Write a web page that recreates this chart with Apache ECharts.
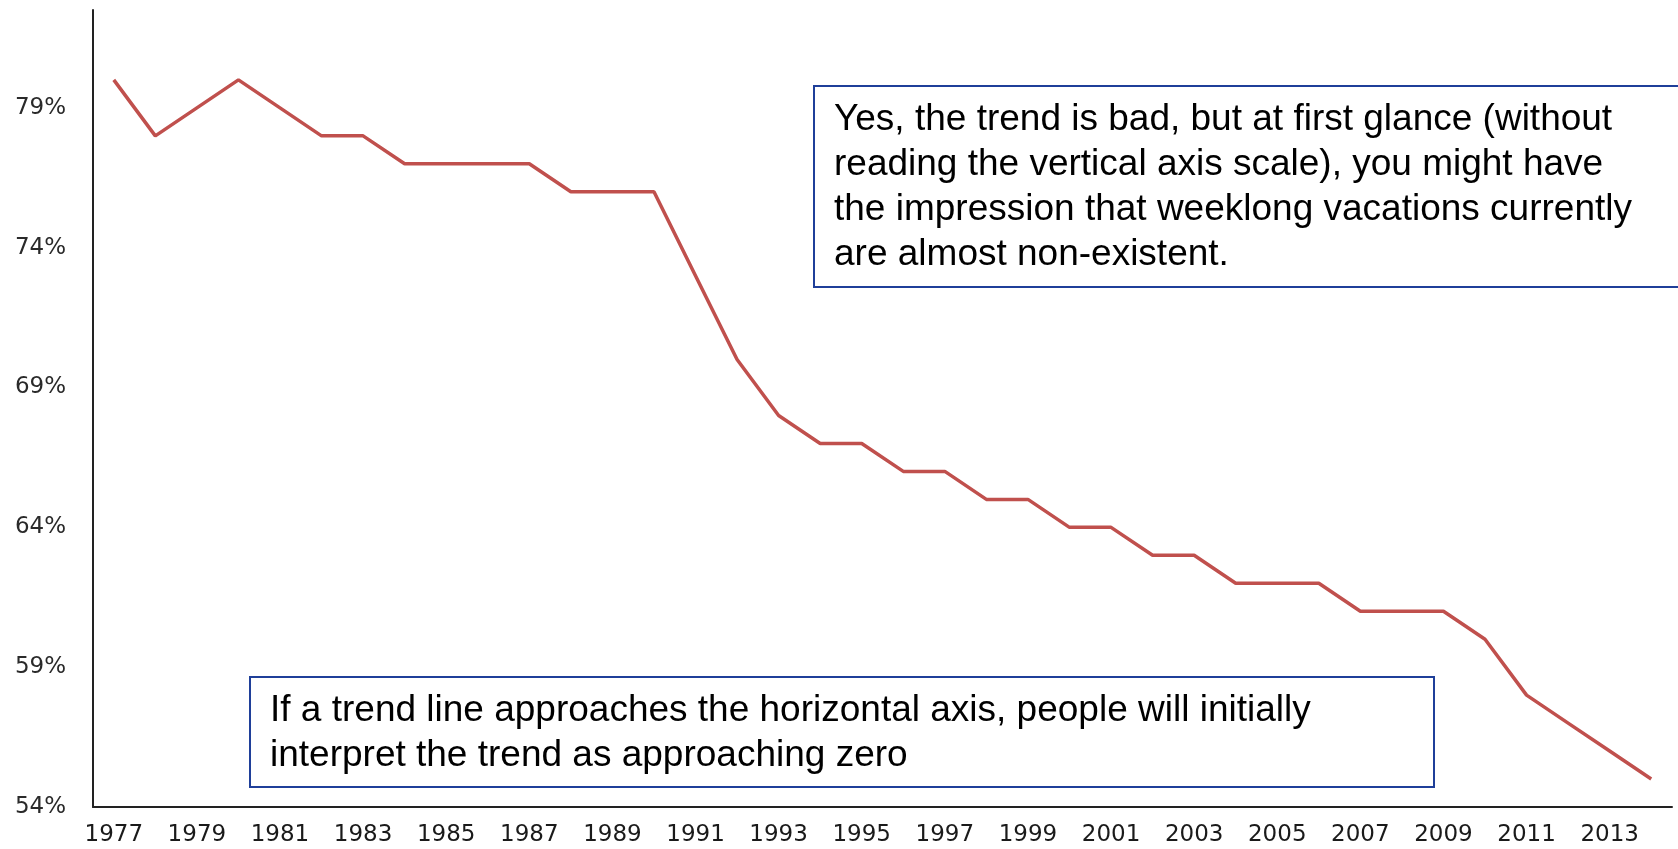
<!DOCTYPE html>
<html>
<head>
<meta charset="utf-8">
<style>
  html, body { margin: 0; padding: 0; background: #fff; }
  #chart { width: 1678px; height: 849px; }
</style>
<script src="https://cdn.jsdelivr.net/npm/echarts@6/dist/echarts.min.js"></script>
</head>
<body>
<div id="chart"></div>
<script>
// years on the category axis
const years = ['1977', '1978', '1979', '1980', '1981', '1982', '1983', '1984', '1985', '1986',
  '1987', '1988', '1989', '1990', '1991', '1992', '1993', '1994', '1995', '1996',
  '1997', '1998', '1999', '2000', '2001', '2002', '2003', '2004', '2005', '2006',
  '2007', '2008', '2009', '2010', '2011', '2012', '2013', '2014']

// share taking a weeklong vacation, in percent
const vacationShare = [80, 78, 79, 80, 79, 78, 78, 77, 77, 77,
  77, 76, 76, 76, 73, 70, 68, 67, 67, 66,
  66, 65, 65, 64, 64, 63, 63, 62, 62, 62,
  61, 61, 61, 60, 58, 57, 56, 55]

const topNote = [
  'Yes, the trend is bad, but at first glance (without',
  'reading the vertical axis scale), you might have',
  'the impression that weeklong vacations currently',
  'are almost non-existent.'
]
const bottomNote = [
  'If a trend line approaches the horizontal axis, people will initially',
  'interpret the trend as approaching zero'
]

const boxColor = '#1F3F99'
const noteFont = '37px "Liberation Sans", Arial, sans-serif'

const chart = echarts.init(document.getElementById('chart'))

chart.setOption({
  animation: false,
  grid: {
    left: 93,
    right: 6,
    top: 10,
    bottom: 42
  },
  xAxis: {
    type: 'category',
    data: years,
    boundaryGap: true,
    axisLine: { lineStyle: { color: '#222', width: 2 } },
    axisTick: { show: false },
    axisLabel: {
      interval: 1,
      margin: 17,
      color: '#1a1a1a',
      fontFamily: '"DejaVu Sans", Verdana, sans-serif',
      fontSize: 23
    }
  },
  yAxis: {
    type: 'value',
    min: 54,
    max: 82.5,
    interval: 5,
    axisLine: { show: true, lineStyle: { color: '#222', width: 2 } },
    axisTick: { show: false },
    splitLine: { show: false },
    axisLabel: {
      showMaxLabel: false,
      margin: 27,
      color: '#2a2a2a',
      fontFamily: '"DejaVu Sans", Verdana, sans-serif',
      fontSize: 23,
      formatter: v => v + '%'
    }
  },
  series: [{
    type: 'line',
    data: vacationShare,
    symbol: 'none',
    lineStyle: { color: '#C0504D', width: 3.5 },
    z: 2
  }],
  graphic: [
    {
      type: 'rect',
      shape: { x: 814, y: 86, width: 880, height: 201 },
      style: { fill: '#fff', stroke: boxColor, lineWidth: 2 },
      z: 10
    },
    {
      type: 'text',
      x: 834,
      y: 97,
      style: {
        text: topNote.join('\n'),
        font: noteFont,
        lineHeight: 45,
        fill: '#000',
        verticalAlign: 'top'
      },
      z: 11
    },
    {
      type: 'rect',
      shape: { x: 250, y: 677, width: 1184, height: 110 },
      style: { fill: '#fff', stroke: boxColor, lineWidth: 2 },
      z: 10
    },
    {
      type: 'text',
      x: 270,
      y: 688,
      style: {
        text: bottomNote.join('\n'),
        font: noteFont,
        lineHeight: 45,
        fill: '#000',
        verticalAlign: 'top'
      },
      z: 11
    }
  ]
})
</script>
</body>
</html>
